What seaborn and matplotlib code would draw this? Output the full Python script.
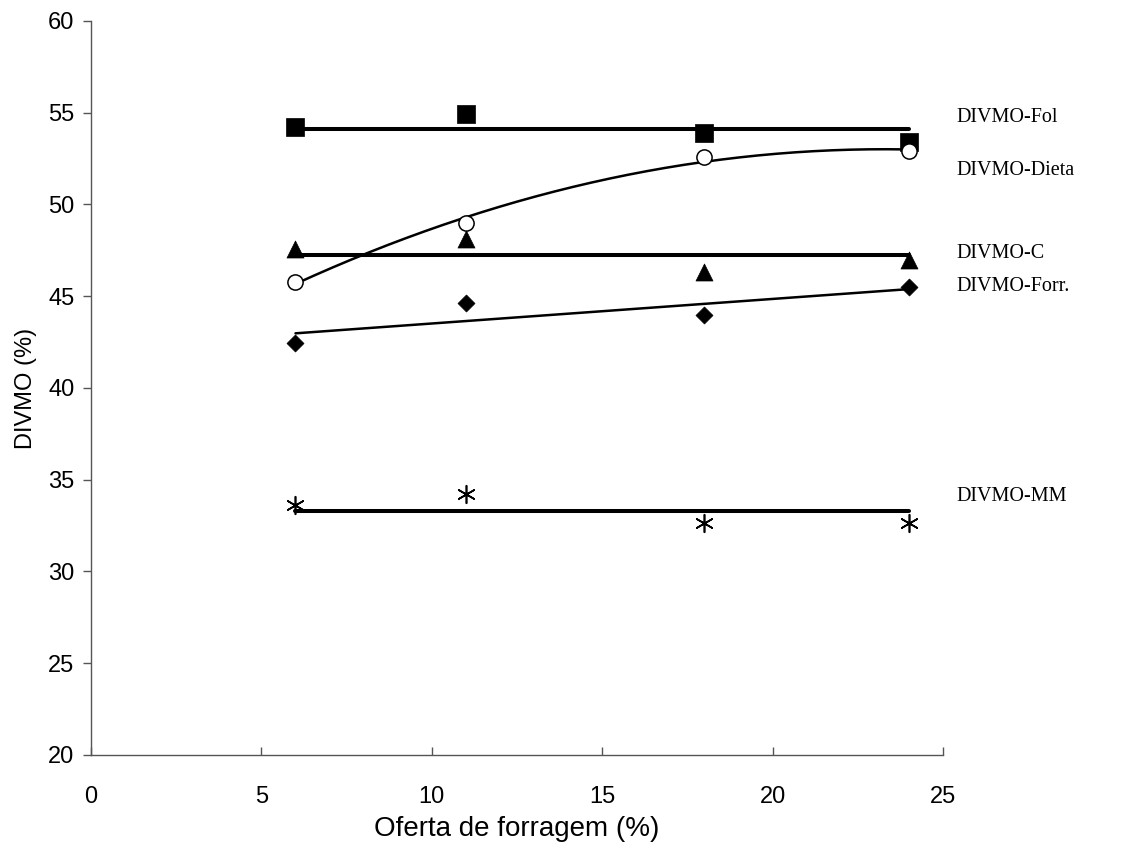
import numpy as np
import pandas as pd
import matplotlib
matplotlib.use("Agg")
import matplotlib.pyplot as plt
import seaborn as sns

# ---- data ----
oferta = [6, 11, 18, 24]
divmo_fol = [54.2, 54.95, 53.9, 53.4]
divmo_dieta = [45.8, 49.0, 52.6, 52.9]
divmo_c = [47.6, 48.1, 46.3, 47.0]
divmo_forr = [42.45, 44.65, 44.0, 45.5]
divmo_mm = [33.6, 34.2, 32.65, 32.65]

series_names = ["DIVMO-Fol", "DIVMO-Dieta", "DIVMO-C", "DIVMO-Forr.", "DIVMO-MM"]
label_y = [54.75, 51.85, 47.35, 45.55, 34.1]

x_ticks = [0, 5, 10, 15, 20, 25]
y_ticks = [20, 25, 30, 35, 40, 45, 50, 55, 60]

sns.set_theme(style="white")
plt.rcParams["font.family"] = ["Liberation Sans", "DejaVu Sans"]

fig = plt.figure(figsize=(11.21, 8.6), dpi=100)
ax = fig.add_axes([0.0812, 0.1221, 0.7600, 0.8535])

series = [divmo_fol, divmo_dieta, divmo_c, divmo_forr, divmo_mm]
fit_deg = [0, 2, 0, 1, 0]
line_w = [2.9, 1.8, 2.9, 1.8, 2.9]

xs = np.array(oferta, dtype=float)
xdense = np.linspace(min(oferta), max(oferta), 200)
for vals, deg, lw in zip(series, fit_deg, line_w):
    coef = np.polyfit(xs, np.array(vals), deg)
    yfit = np.polyval(coef, xdense)
    sns.lineplot(x=xdense, y=yfit, color="black", linewidth=lw, ax=ax,
                 zorder=2, legend=False)

# markers
sns.scatterplot(x=oferta, y=divmo_fol, marker="s", color="black", s=150,
                edgecolor="black", linewidth=0.5, ax=ax, zorder=3)
sns.scatterplot(x=oferta, y=divmo_dieta, marker="o", facecolor="white", s=120,
                edgecolor="black", linewidth=1.1, ax=ax, zorder=3)
sns.scatterplot(x=oferta, y=divmo_c, marker="^", color="black", s=150,
                edgecolor="black", linewidth=0.5, ax=ax, zorder=3)
sns.scatterplot(x=oferta, y=divmo_forr, marker="D", color="black", s=75,
                edgecolor="black", linewidth=0.5, ax=ax, zorder=3)
sns.scatterplot(x=oferta, y=divmo_mm, marker=(6, 2, 0), color="black", s=160,
                edgecolor="black", linewidth=1.2, ax=ax, zorder=3)

for name, yl in zip(series_names, label_y):
    ax.text(25.4, yl, name, family=["Liberation Serif", "DejaVu Serif"],
            fontsize=14.5, va="center", ha="left", color="black", clip_on=False)

ax.set_xlim(0, 25)
ax.set_ylim(20, 60)
ax.set_xticks(x_ticks)
ax.set_yticks(y_ticks)
ax.set_xticklabels([str(t) for t in x_ticks])
ax.set_yticklabels([str(t) for t in y_ticks])

for side in ["top", "right"]:
    ax.spines[side].set_visible(False)
for side in ["left", "bottom"]:
    ax.spines[side].set_color("#555555")
    ax.spines[side].set_linewidth(1.0)

ax.tick_params(axis="y", direction="out", length=6, width=1.0, color="#555555",
               labelsize=17, pad=6, left=True, labelcolor="black")
ax.tick_params(axis="x", direction="in", length=6, width=1.0, color="#555555",
               labelsize=17, pad=22, bottom=True, labelcolor="black")

ax.set_xlabel("Oferta de forragem (%)", fontsize=20, labelpad=6, color="black")
ax.set_ylabel("DIVMO (%)", fontsize=17, labelpad=8, color="black")
ax.grid(False)

fig.savefig("out.png", dpi=100, facecolor="white")
